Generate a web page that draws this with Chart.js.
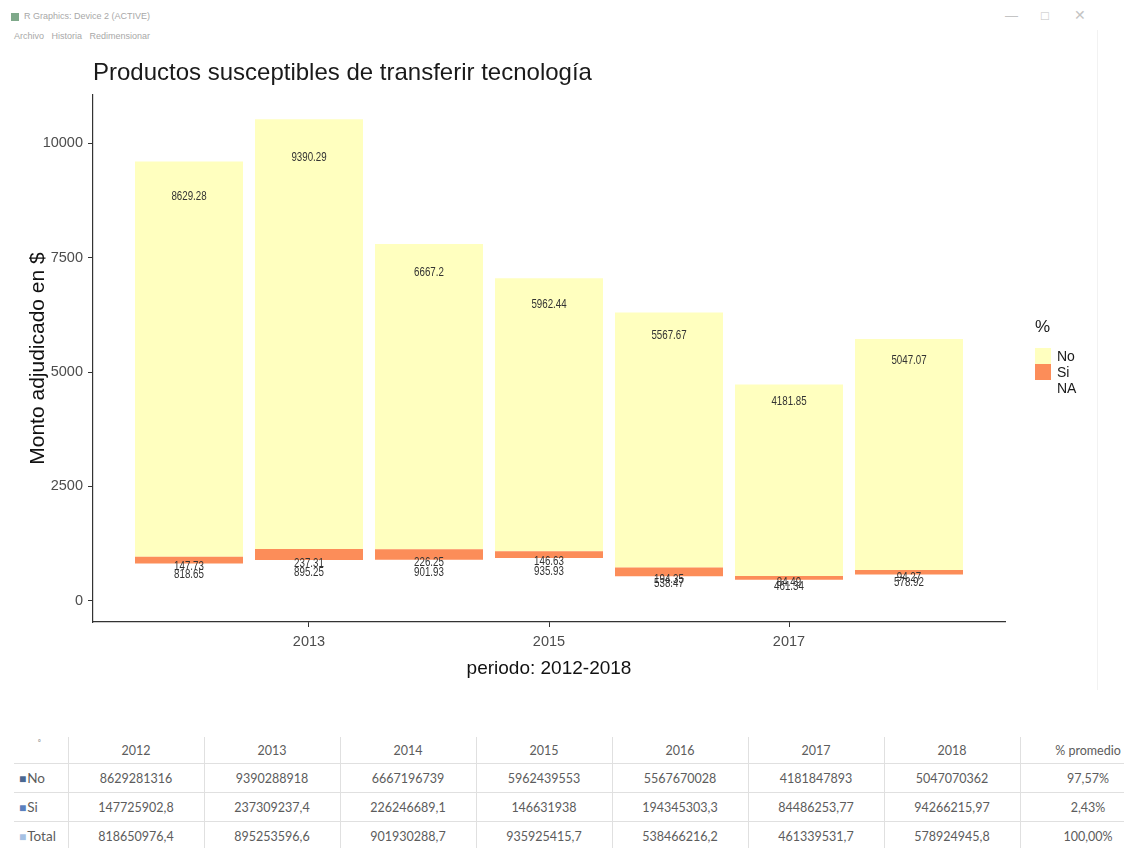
<!DOCTYPE html>
<html lang="es">
<head>
<meta charset="utf-8">
<title>Productos susceptibles de transferir tecnología</title>
<script src="https://cdn.jsdelivr.net/npm/chart.js@4.4.0/dist/chart.umd.min.js"></script>
<style>
  html, body { margin: 0; padding: 0; background: #fff; }
  #page { position: relative; width: 1124px; height: 848px; overflow: hidden; font-family: "Liberation Sans", Arial, sans-serif; }
  #chartBox { position: absolute; left: 0; top: 0; width: 1124px; height: 700px; }
  .chrome { position: absolute; font-size: 9px; color: #a8a8a8; white-space: nowrap; }
  .icon { position: absolute; left: 11px; top: 13px; width: 8px; height: 8px; background: #7fa98a; }
  .winline { position: absolute; left: 1097px; top: 30px; width: 1px; height: 660px; background: #f2f2f2; }
  #dataTable { position: absolute; left: 14px; top: 737px; border-collapse: collapse; table-layout: fixed; width: 1142px;
    font-family: Lato, "Open Sans", sans-serif; font-size: 12.5px; color: #5c5c5c; }
  #dataTable td { border: 1px solid #e0e0e0; text-align: center; height: 28px; padding: 0; white-space: nowrap; }
  #dataTable tr:first-child td { border-top: none; height: 26px; }
  #dataTable td:first-child { border-left: none; text-align: left; padding-left: 5px; font-size: 13.5px; }
  .sq { font-size: 12px; margin-right: 1px; }
</style>
</head>
<body>
<div id="page">
  <div class="icon"></div>
  <div class="chrome" style="left:24px; top:11px;">R Graphics: Device 2 (ACTIVE)</div>
  <div class="chrome" style="left:14px; top:31px;">Archivo&nbsp;&nbsp;&nbsp;Historia&nbsp;&nbsp;&nbsp;Redimensionar</div>
  <div class="chrome" style="left:1005px; top:8px; font-size:13px; color:#c4c4c4;">&#8212;</div>
  <div class="chrome" style="left:1041px; top:8px; font-size:13px; color:#c4c4c4;">&#9633;</div>
  <div class="chrome" style="left:1074px; top:7px; font-size:14px; color:#c4c4c4;">&#10005;</div>
  <div class="winline"></div>
  <div id="chartBox"><canvas id="myChart"></canvas></div>
  <table id="dataTable"></table>
</div>
<script>
  // Values in millions of $
  const years = [2012, 2013, 2014, 2015, 2016, 2017, 2018];
  const noValues = [8629.28, 9390.29, 6667.2, 5962.44, 5567.67, 4181.85, 5047.07];
  const siValues = [147.73, 237.31, 226.25, 146.63, 194.35, 84.49, 94.27];
  const naValues = [818.65, 895.25, 901.93, 935.93, 538.47, 461.34, 578.92];
  const xTickValues = [2013, 2015, 2017];
  const yTickValues = [0, 2500, 5000, 7500, 10000];
  const seriesNames = ['No', 'Si', 'NA'];
  const seriesColors = ['#FFFFBF', '#FC8D59', 'rgba(0,0,0,0)'];

  // Table below the chart
  const tableHeader = ['2012', '2013', '2014', '2015', '2016', '2017', '2018', '% promedio'];
  const tableNo = ['8629281316', '9390288918', '6667196739', '5962439553', '5567670028', '4181847893', '5047070362', '97,57%'];
  const tableSi = ['147725902,8', '237309237,4', '226246689,1', '146631938', '194345303,3', '84486253,77', '94266215,97', '2,43%'];
  const tableTotal = ['818650976,4', '895253596,6', '901930288,7', '935925415,7', '538466216,2', '461339531,7', '578924945,8', '100,00%'];
  const tableRows = ['No', 'Si', 'Total'];
  const tableMarks = ['#4b6890', '#5b80bd', '#a6c1e3'];

  const family = '"Liberation Sans", Arial, sans-serif';

  // build the table
  const table = document.getElementById('dataTable');
  let html = '<colgroup><col style="width:54px">';
  tableHeader.forEach(function () { html += '<col style="width:136px">'; });
  html += '</colgroup><tr><td style="font-size:9px;vertical-align:top;color:#999;padding-left:24px">&#7506;</td>';
  tableHeader.forEach(function (h) { html += '<td>' + h + '</td>'; });
  html += '</tr>';
  [tableNo, tableSi, tableTotal].forEach(function (row, r) {
    html += '<tr><td><span class="sq" style="color:' + tableMarks[r] + '">&#9632;</span>' + tableRows[r] + '</td>';
    row.forEach(function (v) { html += '<td>' + v + '</td>'; });
    html += '</tr>';
  });
  table.innerHTML = html;

  function fmt(v) {
    return String(Math.round(v * 100) / 100);
  }

  function narrowText(ctx, text, x, y) {
    ctx.save();
    ctx.translate(x, y);
    ctx.scale(0.75, 1);
    ctx.fillText(text, 0, 0);
    ctx.restore();
  }

  // bar labels, title and legend
  const extras = {
    id: 'extras',
    afterDatasetsDraw(chart) {
      const ctx = chart.ctx;
      const yScale = chart.scales.y;
      const meta = chart.getDatasetMeta(0);
      ctx.save();
      ctx.fillStyle = '#333';
      ctx.font = '13px ' + family;
      ctx.textAlign = 'center';
      ctx.textBaseline = 'middle';
      years.forEach(function (yr, i) {
        const x = meta.data[i].x;
        const total = naValues[i] + siValues[i] + noValues[i];
        narrowText(ctx, fmt(noValues[i]), x, yScale.getPixelForValue(total * 0.92));
        narrowText(ctx, fmt(siValues[i]), x, yScale.getPixelForValue(naValues[i]) + 3);
        narrowText(ctx, fmt(naValues[i]), x, yScale.getPixelForValue(naValues[i] * 0.7));
      });
      ctx.restore();
    },
    afterDraw(chart) {
      const ctx = chart.ctx;
      ctx.save();
      // title
      ctx.fillStyle = '#1a1a1a';
      ctx.font = '24px ' + family;
      ctx.textAlign = 'left';
      ctx.textBaseline = 'alphabetic';
      ctx.fillText('Productos susceptibles de transferir tecnología', 93, 80);
      // legend
      const lx = chart.chartArea.right + 30;
      ctx.font = '17px ' + family;
      ctx.textBaseline = 'middle';
      ctx.fillText('%', lx, 327);
      ctx.font = '14px ' + family;
      seriesNames.forEach(function (name, k) {
        const top = 348 + k * 16;
        ctx.fillStyle = seriesColors[k];
        ctx.fillRect(lx, top, 16, 16);
        ctx.fillStyle = '#1a1a1a';
        ctx.fillText(name, lx + 22, top + 9);
      });
      ctx.restore();
    }
  };

  const datasets = [naValues, siValues, noValues].map(function (vals, k) {
    const idx = 2 - k;
    return {
      label: seriesNames[idx],
      data: years.map(function (yr, i) { return { x: yr, y: vals[i] }; }),
      backgroundColor: seriesColors[idx],
      borderWidth: 0,
      barPercentage: 0.9,
      categoryPercentage: 1
    };
  });

  const myChart = new Chart(document.getElementById('myChart'), {
    type: 'bar',
    data: { datasets: datasets },
    plugins: [extras],
    options: {
      responsive: true,
      maintainAspectRatio: false,
      animation: false,
      layout: { padding: { top: 95, right: 119, bottom: 0, left: 0 } },
      plugins: {
        legend: { display: false },
        title: { display: false },
        tooltip: { enabled: false }
      },
      scales: {
        x: {
          type: 'linear',
          stacked: true,
          min: 2011.2,
          max: 2018.8,
          offset: false,
          afterBuildTicks: function (s) { s.ticks = xTickValues.map(function (v) { return { value: v }; }); },
          afterFit: function (s) { s.height = 78; },
          grid: { offset: false, drawOnChartArea: false, drawTicks: true, tickLength: 5, tickColor: '#333', tickWidth: 1 },
          border: { display: true, color: '#333', width: 1.2 },
          ticks: { color: '#4d4d4d', font: { size: 14.5, family: family }, padding: 6, maxRotation: 0,
            callback: function (v) { return String(v); } },
          title: { display: true, text: 'periodo: 2012-2018', color: '#111', font: { size: 19, family: family },
            padding: { top: 0, bottom: 20 } }
        },
        y: {
          stacked: true,
          min: -460,
          max: 11050,
          afterBuildTicks: function (s) { s.ticks = yTickValues.map(function (v) { return { value: v }; }); },
          afterFit: function (s) { s.width = 93; },
          grid: { drawOnChartArea: false, drawTicks: true, tickLength: 5, tickColor: '#333', tickWidth: 1 },
          border: { display: true, color: '#333', width: 1.2 },
          ticks: { color: '#4d4d4d', font: { size: 14.5, family: family }, padding: 5,
            callback: function (v) { return String(v); } },
          title: { display: true, text: 'Monto adjudicado en $', color: '#111', font: { size: 21, family: family },
            padding: { top: 26, bottom: 0 } }
        }
      }
    }
  });
</script>
</body>
</html>
